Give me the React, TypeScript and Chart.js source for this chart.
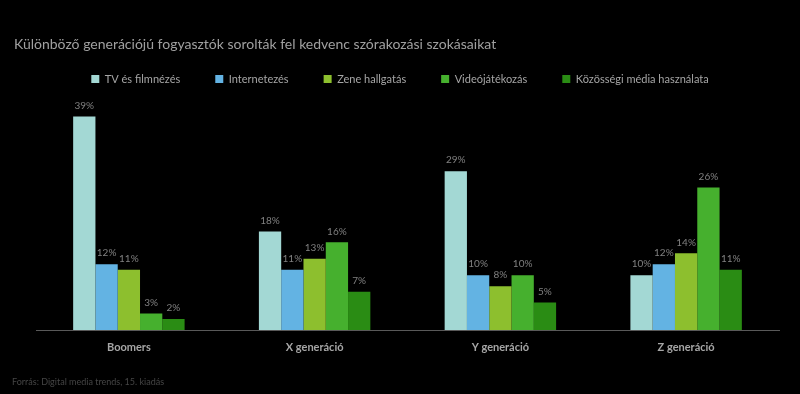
import React, { useEffect, useRef } from "react";
import { Chart, registerables } from "chart.js";

Chart.register(...registerables);

const titleText = "Különböző generációjú fogyasztók sorolták fel kedvenc szórakozási szokásaikat";
const sourceText = "Forrás: Digital media trends, 15. kiadás";
const categories = ["Boomers", "X generáció", "Y generáció", "Z generáció"];
const seriesNames = [
  "TV és filmnézés",
  "Internetezés",
  "Zene hallgatás",
  "Videójátékozás",
  "Közösségi média használata",
];
const tvValues = [39, 18, 29, 10];
const internetValues = [12, 11, 10, 12];
const musicValues = [11, 13, 8, 14];
const gamingValues = [3, 16, 10, 26];
const socialValues = [2, 7, 5, 11];
const seriesColors = ["#a3d8d4", "#63b3e3", "#8dbf2e", "#46b02e", "#2a8c14"];

const FONT = "Lato, 'Open Sans', sans-serif";

const textPlugin = {
  id: "extraText",
  afterDraw(chart: any) {
    const ctx = chart.ctx;
    ctx.save();
    ctx.textAlign = "left";
    ctx.textBaseline = "alphabetic";
    ctx.fillStyle = "#a0a0a0";
    ctx.font = `14px ${FONT}`;
    ctx.fillText(titleText, 14, 49);
    ctx.fillStyle = "#454545";
    ctx.font = `9px ${FONT}`;
    ctx.fillText(sourceText, 12, 385);
    ctx.restore();
  },
};

const valueLabelPlugin = {
  id: "valueLabels",
  afterDatasetsDraw(chart: any) {
    const ctx = chart.ctx;
    ctx.save();
    ctx.textAlign = "center";
    ctx.textBaseline = "bottom";
    ctx.fillStyle = "#808080";
    ctx.font = `10px ${FONT}`;
    chart.data.datasets.forEach((ds: any, di: number) => {
      const meta = chart.getDatasetMeta(di);
      meta.data.forEach((bar: any, i: number) => {
        ctx.fillText(`${ds.data[i]}%`, bar.x, bar.y - 6);
      });
    });
    ctx.restore();
  },
};

export default function App() {
  const canvasRef = useRef<HTMLCanvasElement | null>(null);

  useEffect(() => {
    document.body.style.background = "#000";
    const allValues = [tvValues, internetValues, musicValues, gamingValues, socialValues];
    const chart = new Chart(canvasRef.current as HTMLCanvasElement, {
      type: "bar",
      data: {
        labels: categories,
        datasets: seriesNames.map((name, i) => ({
          label: name,
          data: allValues[i],
          backgroundColor: seriesColors[i],
          borderWidth: 0,
          categoryPercentage: 0.6,
          barPercentage: 1.0,
        })),
      },
      options: {
        responsive: false,
        animation: false,
        layout: { padding: { top: 38.5, bottom: 28.8, left: 0, right: 0 } },
        plugins: {
          legend: {
            position: "top",
            maxHeight: 56,
            labels: {
              boxWidth: 8,
              boxHeight: 8,
              padding: 35,
              color: "#a6a6a6",
              font: { family: FONT, size: 11 },
            },
          },
          tooltip: { enabled: false },
          title: { display: false },
        },
        scales: {
          x: {
            grid: { display: false, drawTicks: false },
            border: { display: true, color: "#595959", width: 1 },
            ticks: {
              color: "#a6a6a6",
              padding: 11,
              font: { family: FONT, size: 11, weight: "bold" },
            },
          },
          y: {
            min: 0,
            max: 43,
            position: "left",
            grid: { display: false, drawTicks: false },
            border: { display: false },
            ticks: { display: false },
            afterFit: (scale: any) => {
              scale.width = 36;
            },
          },
          y2: {
            type: "linear",
            position: "right",
            grid: { display: false, drawTicks: false },
            border: { display: false },
            ticks: { display: false },
            afterFit: (scale: any) => {
              scale.width = 21;
            },
          },
        },
      },
      plugins: [textPlugin, valueLabelPlugin],
    });
    return () => chart.destroy();
  }, []);

  return (
    <div
      style={{
        position: "fixed",
        left: 0,
        top: 0,
        width: 800,
        height: 394,
        background: "#000",
      }}
    >
      <canvas ref={canvasRef} width={800} height={394} style={{ display: "block" }} />
    </div>
  );
}
